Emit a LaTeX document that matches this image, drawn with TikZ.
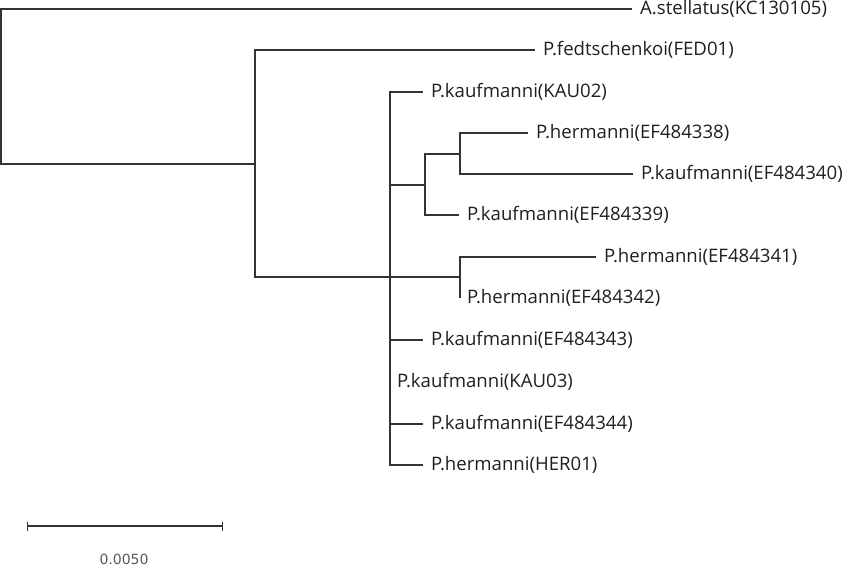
\documentclass[tikz,border=0pt]{standalone}
\usepackage{fontspec}
\setmainfont{Open Sans}
\newfontfamily\scalebarfont{DejaVu Sans}
\usetikzlibrary{arrows.meta,positioning}

\begin{document}
\begin{tikzpicture}[
  x=1pt,y=-1pt,
  leaf/.style={
    anchor=west,
    inner xsep=8pt,
    inner ysep=2pt,
    text=black!88,
    font=\fontsize{18.6}{20}\selectfont
  },
  branch/.style={line width=1.3pt,black!80},
  scalebar/.style={line width=1.3pt,black!80,{Bar[width=9pt]}-{Bar[width=9pt]}}
]
  \useasboundingbox (0,0) rectangle (848,566);
  % internal nodes
  \coordinate (root) at (1,86);
  \coordinate (ingroup) at (255,164);
  \coordinate (kaufherm) at (390,277);
  \coordinate (cladeA) at (425,185);
  \coordinate (cladeAA) at (460,154);
  \coordinate (cladeB) at (460,277);
  % leaves
  \node[leaf] (stellatus) at (632,9) {A.stellatus(KC130105)};
  \node[leaf] (fed01) at (535,50) {P.fedtschenkoi(FED01)};
  \node[leaf] (kau02) at (423,92) {P.kaufmanni(KAU02)};
  \node[leaf] (ef338) at (528,133) {P.hermanni(EF484338)};
  \node[leaf] (ef340) at (633,174) {P.kaufmanni(EF484340)};
  \node[leaf] (ef339) at (459,215) {P.kaufmanni(EF484339)};
  \node[leaf] (ef341) at (596,257) {P.hermanni(EF484341)};
  \node[leaf] (ef342) at (459,298) {P.hermanni(EF484342)};
  \node[leaf] (ef343) at (423,340) {P.kaufmanni(EF484343)};
  \node[leaf] (kau03) at (389,382) {P.kaufmanni(KAU03)};
  \node[leaf] (ef344) at (423,424) {P.kaufmanni(EF484344)};
  \node[leaf] (her01) at (423,465) {P.hermanni(HER01)};
  % branches
  \draw[branch] (root) |- (stellatus.west);
  \draw[branch] (root) |- (ingroup);
  \draw[branch] (ingroup) |- (fed01.west);
  \draw[branch] (ingroup) |- (kaufherm);
  \draw[branch] (kaufherm) |- (kau02.west);
  \draw[branch] (kaufherm) |- (cladeA);
  \draw[branch] (kaufherm) |- (cladeB);
  \draw[branch] (kaufherm) |- (ef343.west);
  \draw[branch] (kaufherm) |- (ef344.west);
  \draw[branch] (kaufherm) |- (her01.west);
  \draw[branch] (cladeA) |- (cladeAA);
  \draw[branch] (cladeA) |- (ef339.west);
  \draw[branch] (cladeAA) |- (ef338.west);
  \draw[branch] (cladeAA) |- (ef340.west);
  \draw[branch] (cladeB) |- (ef341.west);
  \draw[branch] (cladeB) -- (cladeB |- ef342.west);
  % scale bar
  \coordinate (barL) at (27,526);
  \coordinate (barR) at (223,526);
  \draw[scalebar] (barL) -- (barR);
  \node[text=black!65,font=\scalebarfont\fontsize{14}{16}\selectfont] (barlabel) at (124,559) {0.0050};
\end{tikzpicture}
\end{document}
